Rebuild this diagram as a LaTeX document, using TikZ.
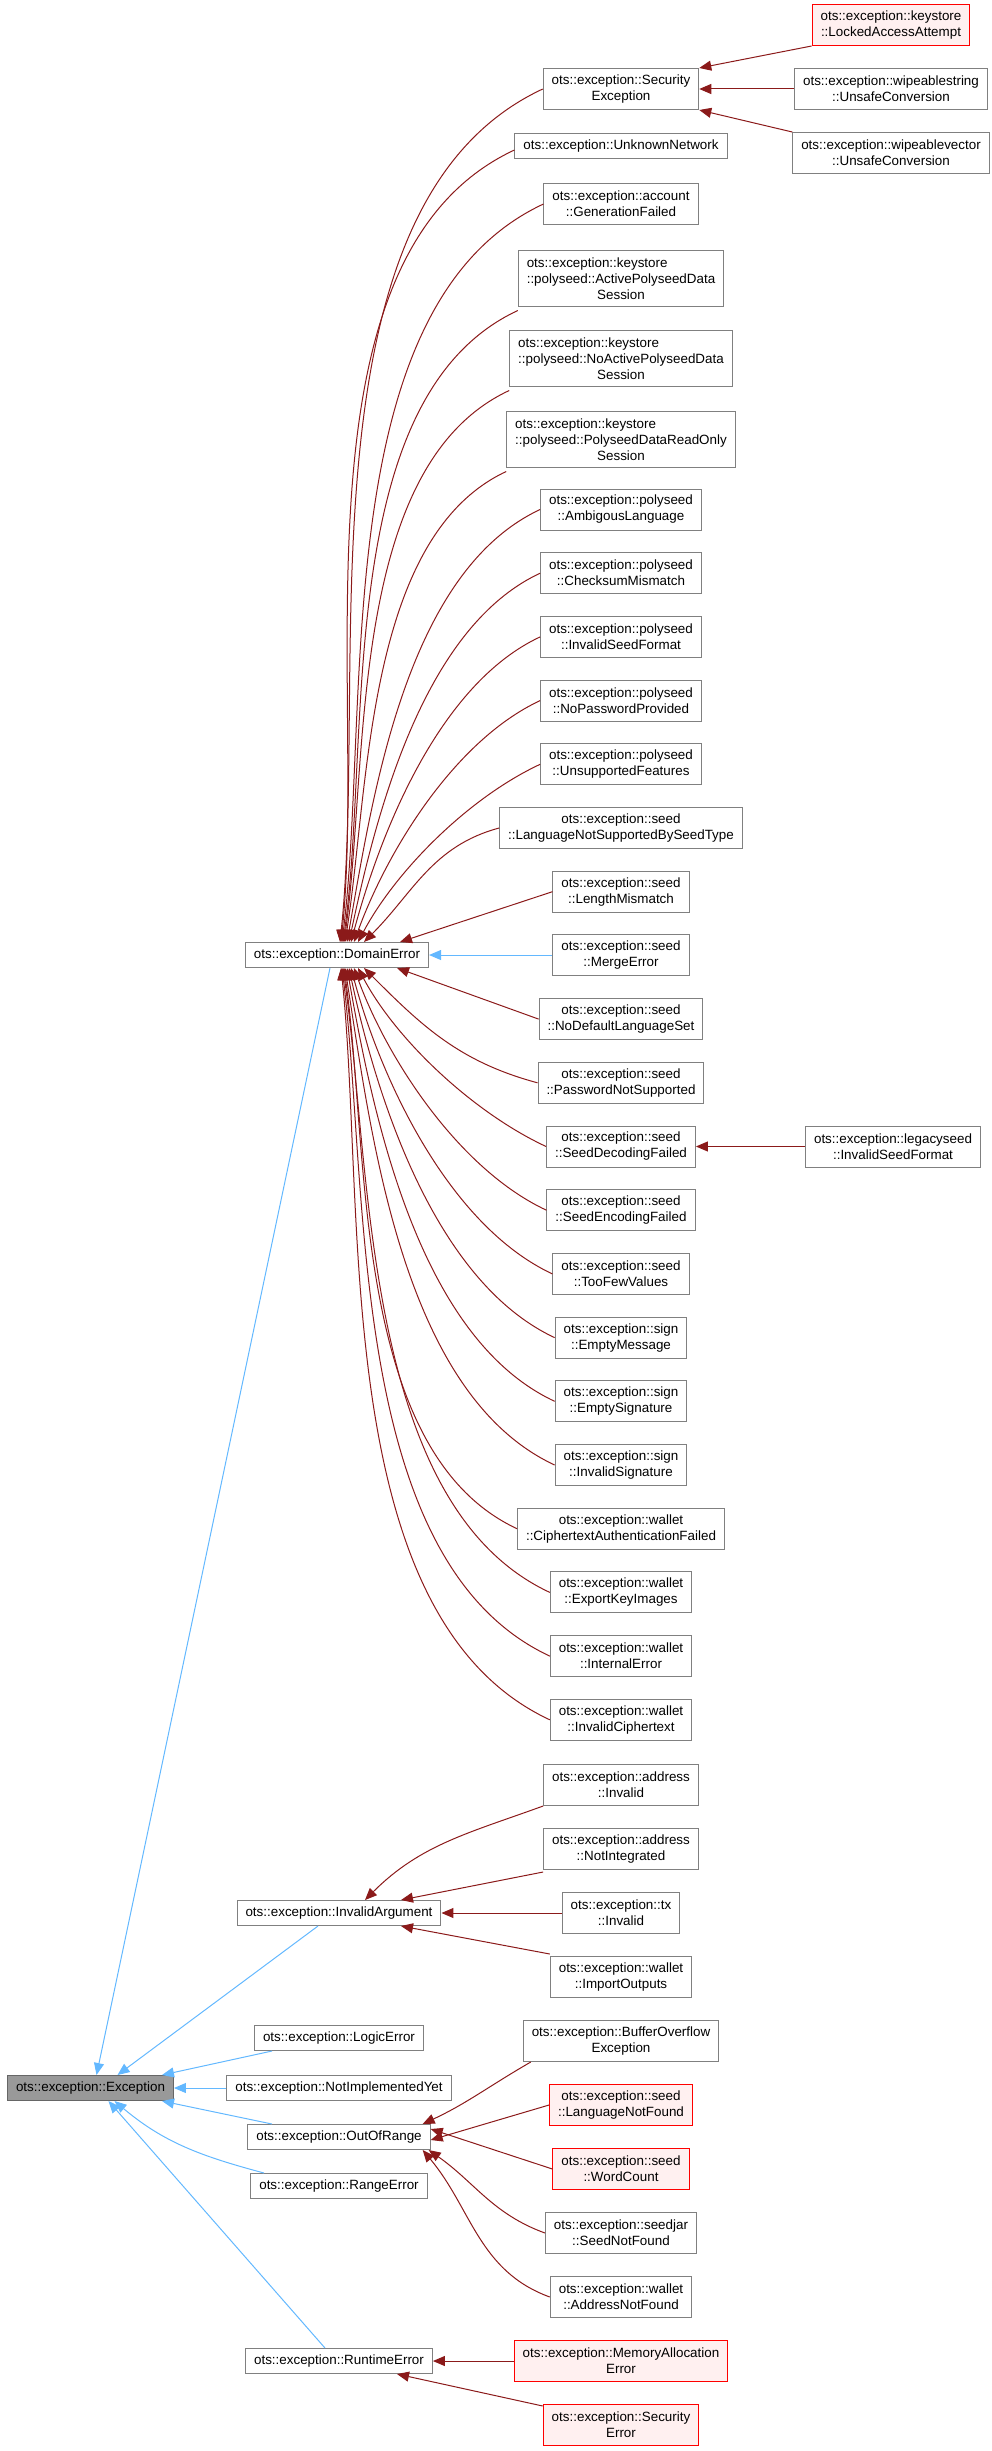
\documentclass[tikz,border=0pt]{standalone}
\usepackage{fontspec}
\setmainfont{Liberation Sans}
\usetikzlibrary{arrows.meta}
\definecolor{redc}{HTML}{8B1A1A}
\definecolor{bluec}{HTML}{63B8FF}
\definecolor{boxc}{HTML}{808080}
\tikzset{
  box/.style={draw=boxc,fill=white,line width=1pt,align=center,inner xsep=8.5pt,inner ysep=0pt,
    font=\fontsize{13.4}{16}\selectfont,minimum height=25pt},
  two/.style={minimum height=41pt},
  three/.style={minimum height=56pt},
  redbox/.style={draw=red,fill={rgb,255:red,255;green,240;blue,240}},
  gbox/.style={fill={rgb,255:red,153;green,153;blue,153},draw={rgb,255:red,102;green,102;blue,102}},
  redarr/.style={draw=redc,line width=1pt,{Triangle[length=12pt,width=10pt]}-},
  bluearr/.style={draw=bluec,line width=1pt,{Triangle[length=12pt,width=10pt]}-},
  upc/.style={out=#1,in=205,looseness=0.8},
  dnc/.style={out=-#1,in=155,looseness=0.8},
}
\newcommand\lft[2]{\begin{tabular}{@{}l@{}}#1\\#2\end{tabular}}
\begin{document}
\begin{tikzpicture}[x=1pt,y=-1pt]
\useasboundingbox (0,0) rectangle (991,2451);
% left / middle
\node[box,gbox] (ex) at (90.5,2088) {ots::exception::Exception};
\node[box] (de) at (337,955) {ots::exception::DomainError};
\node[box] (ia) at (339,1913) {ots::exception::InvalidArgument};
\node[box] (le) at (339,2038) {ots::exception::LogicError};
\node[box] (ni) at (339,2088) {ots::exception::NotImplementedYet};
\node[box] (oor) at (339,2137) {ots::exception::OutOfRange};
\node[box] (re) at (339,2186) {ots::exception::RangeError};
\node[box] (rt) at (339,2361) {ots::exception::RuntimeError};
% DomainError children
\node[box,two] (se) at (621,89) {ots::exception::Security\\Exception};
\node[box] (un) at (621,146) {ots::exception::UnknownNetwork};
\node[box,two] (gf) at (621,204) {ots::exception::account\\::GenerationFailed};
\node[box,three] (ap) at (621,278) {\lft{ots::exception::keystore}{::polyseed::ActivePolyseedData}\\Session};
\node[box,three] (np) at (621,358) {\lft{ots::exception::keystore}{::polyseed::NoActivePolyseedData}\\Session};
\node[box,three] (ro) at (621,439) {\lft{ots::exception::keystore}{::polyseed::PolyseedDataReadOnly}\\Session};
\node[box,two] (c0) at (621,509.5) {ots::exception::polyseed\\::AmbigousLanguage};
\node[box,two] (c1) at (621,573.2) {ots::exception::polyseed\\::ChecksumMismatch};
\node[box,two] (c2) at (621,636.9) {ots::exception::polyseed\\::InvalidSeedFormat};
\node[box,two] (c3) at (621,700.6) {ots::exception::polyseed\\::NoPasswordProvided};
\node[box,two] (c4) at (621,764.3) {ots::exception::polyseed\\::UnsupportedFeatures};
\node[box,two] (c5) at (621,828) {ots::exception::seed\\::LanguageNotSupportedBySeedType};
\node[box,two] (c6) at (621,891.7) {ots::exception::seed\\::LengthMismatch};
\node[box,two] (c7) at (621,955) {ots::exception::seed\\::MergeError};
\node[box,two] (c8) at (621,1019.1) {ots::exception::seed\\::NoDefaultLanguageSet};
\node[box,two] (c9) at (621,1082.8) {ots::exception::seed\\::PasswordNotSupported};
\node[box,two] (c10) at (621,1146.5) {ots::exception::seed\\::SeedDecodingFailed};
\node[box,two] (c11) at (621,1210.2) {ots::exception::seed\\::SeedEncodingFailed};
\node[box,two] (c12) at (621,1273.9) {ots::exception::seed\\::TooFewValues};
\node[box,two] (c13) at (621,1337.6) {ots::exception::sign\\::EmptyMessage};
\node[box,two] (c14) at (621,1401.3) {ots::exception::sign\\::EmptySignature};
\node[box,two] (c15) at (621,1465) {ots::exception::sign\\::InvalidSignature};
\node[box,two] (c16) at (621,1528.7) {ots::exception::wallet\\::CiphertextAuthenticationFailed};
\node[box,two] (c17) at (621,1592.4) {ots::exception::wallet\\::ExportKeyImages};
\node[box,two] (c18) at (621,1656.1) {ots::exception::wallet\\::InternalError};
\node[box,two] (c19) at (621,1719.8) {ots::exception::wallet\\::InvalidCiphertext};
% right column
\node[box,two,redbox] (la) at (891,25) {ots::exception::keystore\\::LockedAccessAttempt};
\node[box,two] (ws) at (891,89) {ots::exception::wipeablestring\\::UnsafeConversion};
\node[box,two] (wv) at (891,153) {ots::exception::wipeablevector\\::UnsafeConversion};
\node[box,two] (ls) at (893,1146.5) {ots::exception::legacyseed\\::InvalidSeedFormat};
% InvalidArgument children
\node[box,two] (ai) at (621,1785) {ots::exception::address\\::Invalid};
\node[box,two] (an) at (621,1849) {ots::exception::address\\::NotIntegrated};
\node[box,two] (ti) at (621,1913) {ots::exception::tx\\::Invalid};
\node[box,two] (wi) at (621,1977) {ots::exception::wallet\\::ImportOutputs};
% OutOfRange children
\node[box,two] (bo) at (621,2041) {ots::exception::BufferOverflow\\Exception};
\node[box,two,redbox] (ln) at (621,2105) {ots::exception::seed\\::LanguageNotFound};
\node[box,two,redbox] (wc) at (621,2169) {ots::exception::seed\\::WordCount};
\node[box,two] (sn) at (621,2233) {ots::exception::seedjar\\::SeedNotFound};
\node[box,two] (an2) at (621,2297) {ots::exception::wallet\\::AddressNotFound};
% RuntimeError children
\node[box,two,redbox] (ma) at (621,2361) {ots::exception::MemoryAllocation\\Error};
\node[box,two,redbox] (sr) at (621,2425) {ots::exception::Security\\Error};

% DomainError edges above
\draw[redarr] ([xshift=3]de.north) to[upc=84] (se.west);
\draw[redarr] ([xshift=4]de.north) to[upc=84] ([yshift=-4]un.west);
\draw[redarr] ([xshift=5]de.north) to[upc=83] (gf.west);
\draw[redarr] ([xshift=6]de.north) to[upc=82] ([yshift=-4]ap.south west);
\draw[redarr] ([xshift=7]de.north) to[upc=82] ([yshift=-4]np.south west);
\draw[redarr] ([xshift=8]de.north) to[upc=81] ([yshift=-4]ro.south west);
\draw[redarr] ([xshift=10]de.north) to[upc=80] (c0.west);
\draw[redarr] ([xshift=12]de.north) to[upc=78] (c1.west);
\draw[redarr] ([xshift=14]de.north) to[upc=75] (c2.west);
\draw[redarr] ([xshift=17]de.north) to[upc=70] (c3.west);
\draw[redarr] ([xshift=21]de.north) to[upc=62] (c4.west);
\draw[redarr] ([xshift=27]de.north) to[out=45,in=195] (c5.west);
\draw[redarr] ([xshift=63]de.north) -- (c6.west);
\draw[bluearr] (de.east) -- (c7.west);
\draw[redarr] ([xshift=60]de.south) -- (c8.west);
\draw[redarr] ([xshift=27]de.south) to[out=-45,in=165] (c9.west);
\draw[redarr] ([xshift=21]de.south) to[dnc=62] (c10.west);
\draw[redarr] ([xshift=17]de.south) to[dnc=70] (c11.west);
\draw[redarr] ([xshift=14]de.south) to[dnc=75] (c12.west);
\draw[redarr] ([xshift=12]de.south) to[dnc=78] (c13.west);
\draw[redarr] ([xshift=10]de.south) to[dnc=80] (c14.west);
\draw[redarr] ([xshift=8]de.south) to[dnc=81] (c15.west);
\draw[redarr] ([xshift=7]de.south) to[dnc=82] (c16.west);
\draw[redarr] ([xshift=6]de.south) to[dnc=82] (c17.west);
\draw[redarr] ([xshift=5]de.south) to[dnc=83] (c18.west);
\draw[redarr] ([xshift=4]de.south) to[dnc=84] (c19.west);
% SecurityException
\draw[redarr] (se.north east) -- (la.south west);
\draw[redarr] (se.east) -- (ws.west);
\draw[redarr] (se.south east) -- (wv.north west);
\draw[redarr] (c10.east) -- (ls.west);
% InvalidArgument
\draw[redarr] ([xshift=26]ia.north) to[out=45,in=200] (ai.south west);
\draw[redarr] ([xshift=62]ia.north) -- ([yshift=-2]an.south west);
\draw[redarr] (ia.east) -- (ti.west);
\draw[redarr] ([xshift=62]ia.south) -- ([yshift=2]wi.north west);
% OutOfRange
\draw[redarr] ([xshift=-8]oor.north east) to[out=25,in=210] ([xshift=8]bo.south west);
\draw[redarr] ([yshift=-3]oor.east) -- (ln.west);
\draw[redarr] ([yshift=8]oor.east) -- (wc.west);
\draw[redarr] ([xshift=-2]oor.south east) to[out=-35,in=160] (sn.west);
\draw[redarr] ([xshift=-8]oor.south east) to[out=-50,in=160] (an2.west);
% RuntimeError
\draw[redarr] (rt.east) -- (ma.west);
\draw[redarr] ([xshift=58]rt.south) -- ([yshift=-2]sr.north west);
% Exception
\draw[bluearr] ([xshift=6]ex.north) -- ([xshift=-7]de.south);
\draw[bluearr] ([xshift=27]ex.north) -- ([xshift=-21]ia.south);
\draw[bluearr] ([xshift=-12]ex.north east) -- ([xshift=-67]le.south);
\draw[bluearr] (ex.east) -- (ni.west);
\draw[bluearr] ([xshift=-12]ex.south east) -- ([xshift=-67]oor.north);
\draw[bluearr] ([xshift=24]ex.south) to[out=-40,in=165] ([xshift=-75]re.north);
\draw[bluearr] ([xshift=18]ex.south) -- ([xshift=-14]rt.north);
\end{tikzpicture}
\end{document}
